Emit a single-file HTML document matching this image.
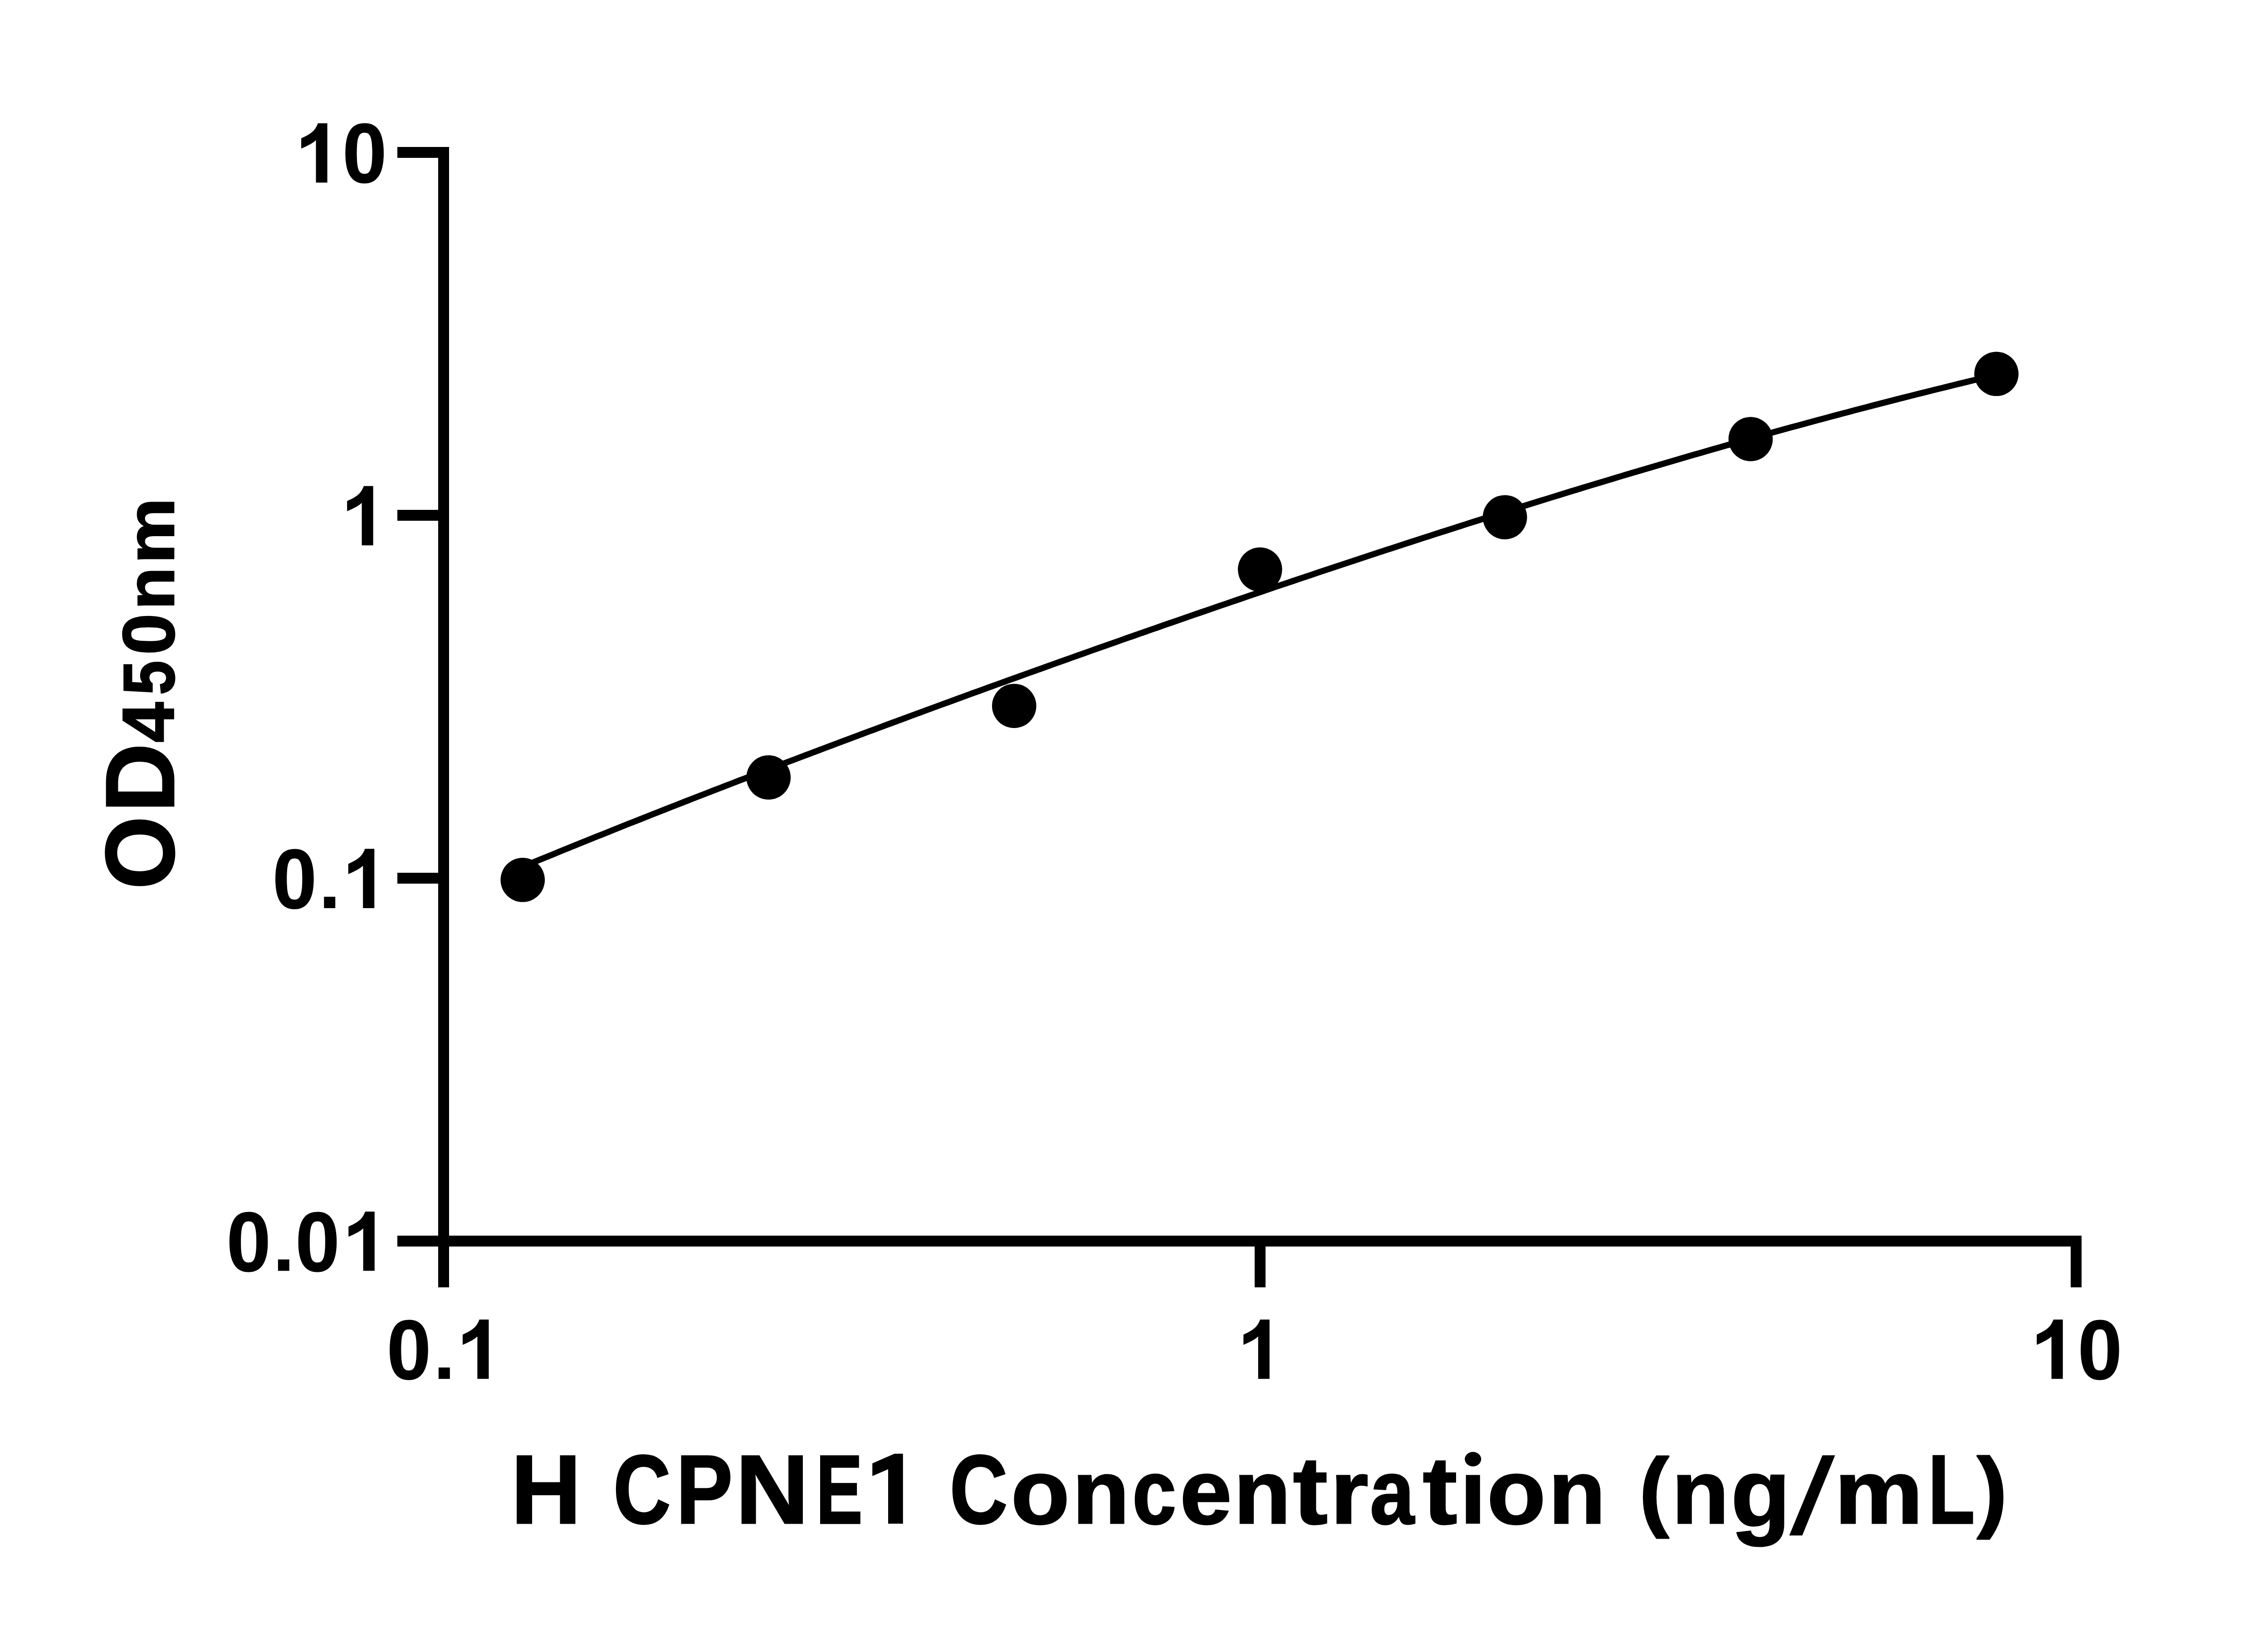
<!DOCTYPE html>
<html><head><meta charset="utf-8"><style>
html,body{margin:0;padding:0;background:#fff;width:5130px;height:3600px;overflow:hidden}
svg{display:block}
text{font-family:"Liberation Sans",sans-serif;font-weight:bold;font-size:200px;fill:#000}
</style></head><body>
<svg width="5130" height="3600" viewBox="0 0 5130 3600">
<rect width="5130" height="3600" fill="#fff"/>
<rect x="966" y="324" width="24" height="2514" fill="#000"/>
<rect x="876" y="2724" width="3713" height="24" fill="#000"/>
<rect x="876" y="324" width="114" height="24" fill="#000"/>
<rect x="876" y="1124" width="114" height="24" fill="#000"/>
<rect x="876" y="1924" width="114" height="24" fill="#000"/>
<rect x="2766" y="2724" width="24" height="114" fill="#000"/>
<rect x="4565" y="2724" width="24" height="114" fill="#000"/>
<polyline points="1152.3,1910.8 1165.9,1905.1 1179.5,1899.6 1193.1,1894.0 1206.7,1888.4 1220.3,1882.9 1233.9,1877.3 1247.5,1871.8 1261.0,1866.3 1274.6,1860.8 1288.2,1855.3 1301.8,1849.8 1315.4,1844.3 1329.0,1838.9 1342.6,1833.4 1356.2,1828.0 1369.8,1822.6 1383.4,1817.1 1397.0,1811.7 1410.6,1806.4 1424.2,1801.0 1437.8,1795.6 1451.4,1790.2 1465.0,1784.9 1478.5,1779.5 1492.1,1774.2 1505.7,1768.9 1519.3,1763.6 1532.9,1758.3 1546.5,1753.0 1560.1,1747.7 1573.7,1742.4 1587.3,1737.2 1600.9,1731.9 1614.5,1726.7 1628.1,1721.4 1641.7,1716.2 1655.3,1711.0 1668.9,1705.8 1682.5,1700.6 1696.0,1695.4 1709.6,1690.2 1723.2,1685.0 1736.8,1679.8 1750.4,1674.7 1764.0,1669.5 1777.6,1664.4 1791.2,1659.2 1804.8,1654.1 1818.4,1649.0 1832.0,1643.9 1845.6,1638.7 1859.2,1633.6 1872.8,1628.6 1886.4,1623.5 1900.0,1618.4 1913.5,1613.3 1927.1,1608.3 1940.7,1603.2 1954.3,1598.2 1967.9,1593.1 1981.5,1588.1 1995.1,1583.1 2008.7,1578.0 2022.3,1573.0 2035.9,1568.0 2049.5,1563.0 2063.1,1558.0 2076.7,1553.0 2090.3,1548.1 2103.9,1543.1 2117.5,1538.1 2131.0,1533.2 2144.6,1528.2 2158.2,1523.3 2171.8,1518.4 2185.4,1513.4 2199.0,1508.5 2212.6,1503.6 2226.2,1498.7 2239.8,1493.8 2253.4,1488.9 2267.0,1484.0 2280.6,1479.1 2294.2,1474.3 2307.8,1469.4 2321.4,1464.5 2335.0,1459.7 2348.5,1454.8 2362.1,1450.0 2375.7,1445.2 2389.3,1440.3 2402.9,1435.5 2416.5,1430.7 2430.1,1425.9 2443.7,1421.1 2457.3,1416.3 2470.9,1411.5 2484.5,1406.7 2498.1,1402.0 2511.7,1397.2 2525.3,1392.5 2538.9,1387.7 2552.5,1383.0 2566.0,1378.2 2579.6,1373.5 2593.2,1368.8 2606.8,1364.1 2620.4,1359.4 2634.0,1354.7 2647.6,1350.0 2661.2,1345.3 2674.8,1340.6 2688.4,1335.9 2702.0,1331.3 2715.6,1326.6 2729.2,1322.0 2742.8,1317.3 2756.4,1312.7 2770.0,1308.1 2783.5,1303.5 2797.1,1298.8 2810.7,1294.2 2824.3,1289.6 2837.9,1285.1 2851.5,1280.5 2865.1,1275.9 2878.7,1271.3 2892.3,1266.8 2905.9,1262.2 2919.5,1257.7 2933.1,1253.2 2946.7,1248.6 2960.3,1244.1 2973.9,1239.6 2987.5,1235.1 3001.0,1230.6 3014.6,1226.1 3028.2,1221.7 3041.8,1217.2 3055.4,1212.7 3069.0,1208.3 3082.6,1203.9 3096.2,1199.4 3109.8,1195.0 3123.4,1190.6 3137.0,1186.2 3150.6,1181.8 3164.2,1177.4 3177.8,1173.0 3191.4,1168.7 3205.0,1164.3 3218.5,1160.0 3232.1,1155.6 3245.7,1151.3 3259.3,1147.0 3272.9,1142.7 3286.5,1138.4 3300.1,1134.1 3313.7,1129.8 3327.3,1125.5 3340.9,1121.2 3354.5,1117.0 3368.1,1112.8 3381.7,1108.5 3395.3,1104.3 3408.9,1100.1 3422.5,1095.9 3436.0,1091.7 3449.6,1087.5 3463.2,1083.3 3476.8,1079.2 3490.4,1075.0 3504.0,1070.9 3517.6,1066.8 3531.2,1062.7 3544.8,1058.6 3558.4,1054.5 3572.0,1050.4 3585.6,1046.3 3599.2,1042.3 3612.8,1038.2 3626.4,1034.2 3640.0,1030.2 3653.5,1026.2 3667.1,1022.2 3680.7,1018.2 3694.3,1014.2 3707.9,1010.2 3721.5,1006.3 3735.1,1002.3 3748.7,998.4 3762.3,994.5 3775.9,990.6 3789.5,986.7 3803.1,982.8 3816.7,979.0 3830.3,975.1 3843.9,971.3 3857.5,967.5 3871.0,963.7 3884.6,959.9 3898.2,956.1 3911.8,952.3 3925.4,948.6 3939.0,944.8 3952.6,941.1 3966.2,937.4 3979.8,933.7 3993.4,930.0 4007.0,926.3 4020.6,922.7 4034.2,919.0 4047.8,915.4 4061.4,911.8 4075.0,908.2 4088.5,904.6 4102.1,901.0 4115.7,897.5 4129.3,893.9 4142.9,890.4 4156.5,886.9 4170.1,883.4 4183.7,879.9 4197.3,876.4 4210.9,873.0 4224.5,869.5 4238.1,866.1 4251.7,862.7 4265.3,859.3 4278.9,856.0 4292.5,852.6 4306.0,849.3 4319.6,845.9 4333.2,842.6 4346.8,839.3 4360.4,836.0 4374.0,832.8 4387.6,829.5 4401.2,826.3" fill="none" stroke="#000" stroke-width="13.5" stroke-linejoin="round"/>
<circle cx="1152.3" cy="1939.8" r="48.8" fill="#000"/>
<circle cx="1694.3" cy="1713.9" r="48.8" fill="#000"/>
<circle cx="2235.8" cy="1556.2" r="48.8" fill="#000"/>
<circle cx="2777.8" cy="1255.5" r="48.8" fill="#000"/>
<circle cx="3317.7" cy="1140.2" r="48.8" fill="#000"/>
<circle cx="3859.4" cy="968.0" r="48.8" fill="#000"/>
<circle cx="4401.2" cy="824.3" r="48.8" fill="#000"/>
<path transform="translate(664.10 402.50) scale(1.0000)" d="M32.4 0L57.5 0L57.5 -130.7L36.9 -130.7C32.53 -121.89 31.47 -111.10 0 -97.6L0 -75.1C17.93 -82.90 25.82 -87.34 32.4 -93.6Z"/>
<text transform="matrix(0.87681 0 0 0.93149 755.06 402.48)" stroke="#000" stroke-width="1.327" stroke-linejoin="miter" stroke-miterlimit="2">0</text>
<path transform="translate(765.20 1202.20) scale(1.0000)" d="M32.4 0L57.5 0L57.5 -130.7L36.9 -130.7C32.53 -121.89 31.47 -111.10 0 -97.6L0 -75.1C17.93 -82.90 25.82 -87.34 32.4 -93.6Z"/>
<text transform="matrix(0.87681 0 0 0.93149 600.76 2001.98)" stroke="#000" stroke-width="1.327" stroke-linejoin="miter" stroke-miterlimit="2">0</text>
<rect x="714.30" y="1976.90" width="24.9" height="25.1"/>
<path transform="translate(767.80 2002.00) scale(1.0000)" d="M32.4 0L57.5 0L57.5 -130.7L36.9 -130.7C32.53 -121.89 31.47 -111.10 0 -97.6L0 -75.1C17.93 -82.90 25.82 -87.34 32.4 -93.6Z"/>
<text transform="matrix(0.87681 0 0 0.93149 499.46 2801.58)" stroke="#000" stroke-width="1.327" stroke-linejoin="miter" stroke-miterlimit="2">0</text>
<rect x="612.90" y="2776.50" width="24.9" height="25.1"/>
<text transform="matrix(0.87681 0 0 0.93149 651.36 2801.58)" stroke="#000" stroke-width="1.327" stroke-linejoin="miter" stroke-miterlimit="2">0</text>
<path transform="translate(768.30 2801.60) scale(1.0000)" d="M32.4 0L57.5 0L57.5 -130.7L36.9 -130.7C32.53 -121.89 31.47 -111.10 0 -97.6L0 -75.1C17.93 -82.90 25.82 -87.34 32.4 -93.6Z"/>
<text transform="matrix(0.87681 0 0 0.93149 852.86 3039.78)" stroke="#000" stroke-width="1.327" stroke-linejoin="miter" stroke-miterlimit="2">0</text>
<rect x="966.90" y="3014.70" width="24.9" height="25.1"/>
<path transform="translate(1020.00 3039.80) scale(1.0000)" d="M32.4 0L57.5 0L57.5 -130.7L36.9 -130.7C32.53 -121.89 31.47 -111.10 0 -97.6L0 -75.1C17.93 -82.90 25.82 -87.34 32.4 -93.6Z"/>
<path transform="translate(2741.30 3039.80) scale(1.0000)" d="M32.4 0L57.5 0L57.5 -130.7L36.9 -130.7C32.53 -121.89 31.47 -111.10 0 -97.6L0 -75.1C17.93 -82.90 25.82 -87.34 32.4 -93.6Z"/>
<path transform="translate(4490.20 3039.80) scale(1.0000)" d="M32.4 0L57.5 0L57.5 -130.7L36.9 -130.7C32.53 -121.89 31.47 -111.10 0 -97.6L0 -75.1C17.93 -82.90 25.82 -87.34 32.4 -93.6Z"/>
<text transform="matrix(0.87681 0 0 0.93149 4580.86 3039.78)" stroke="#000" stroke-width="1.327" stroke-linejoin="miter" stroke-miterlimit="2">0</text>
<text transform="matrix(1.07503 0 0 1.07415 1126.32 3357.50)" stroke="#000" stroke-width="2.792" stroke-linejoin="miter" stroke-miterlimit="2">H</text>
<text transform="matrix(0.87640 0 0 1.07979 1352.11 3358.39)" stroke="#000" stroke-width="3.067" stroke-linejoin="miter" stroke-miterlimit="2">C</text>
<text transform="matrix(0.93565 0 0 1.07415 1490.58 3357.50)" stroke="#000" stroke-width="2.985" stroke-linejoin="miter" stroke-miterlimit="2">P</text>
<text transform="matrix(1.12351 0 0 1.07415 1621.27 3357.50)" stroke="#000" stroke-width="2.730" stroke-linejoin="miter" stroke-miterlimit="2">N</text>
<text transform="matrix(0.76911 0 0 1.07415 1798.91 3357.50)" stroke="#000" stroke-width="3.255" stroke-linejoin="miter" stroke-miterlimit="2">E</text>
<text transform="matrix(0.88329 0 0 1.07979 2093.85 3358.39)" stroke="#000" stroke-width="3.056" stroke-linejoin="miter" stroke-miterlimit="2">C</text>
<text transform="matrix(1.05873 0 0 1.01122 2228.73 3358.52)" stroke="#000" stroke-width="2.899" stroke-linejoin="miter" stroke-miterlimit="2">o</text>
<text transform="matrix(1.02814 0 0 0.99151 2364.15 3357.50)" stroke="#000" stroke-width="2.971" stroke-linejoin="miter" stroke-miterlimit="2">n</text>
<text transform="matrix(0.87127 0 0 1.01122 2496.29 3358.52)" stroke="#000" stroke-width="3.187" stroke-linejoin="miter" stroke-miterlimit="2">c</text>
<text transform="matrix(1.02814 0 0 1.01122 2601.37 3358.52)" stroke="#000" stroke-width="2.942" stroke-linejoin="miter" stroke-miterlimit="2">e</text>
<text transform="matrix(1.02814 0 0 0.99151 2719.95 3357.50)" stroke="#000" stroke-width="2.971" stroke-linejoin="miter" stroke-miterlimit="2">n</text>
<text transform="matrix(1.15038 0 0 1.05728 2850.49 3358.64)" stroke="#000" stroke-width="2.718" stroke-linejoin="miter" stroke-miterlimit="2">t</text>
<text transform="matrix(1.07593 0 0 0.99151 2933.12 3357.50)" stroke="#000" stroke-width="2.902" stroke-linejoin="miter" stroke-miterlimit="2">r</text>
<text transform="matrix(0.87771 0 0 1.01122 3020.16 3358.52)" stroke="#000" stroke-width="3.176" stroke-linejoin="miter" stroke-miterlimit="2">a</text>
<text transform="matrix(1.14228 0 0 1.05728 3136.51 3358.64)" stroke="#000" stroke-width="2.728" stroke-linejoin="miter" stroke-miterlimit="2">t</text>
<text transform="matrix(1.05873 0 0 1.01122 3278.33 3358.52)" stroke="#000" stroke-width="2.899" stroke-linejoin="miter" stroke-miterlimit="2">o</text>
<text transform="matrix(1.03021 0 0 0.99151 3413.82 3357.50)" stroke="#000" stroke-width="2.968" stroke-linejoin="miter" stroke-miterlimit="2">n</text>
<text transform="matrix(0.99565 0 0 0.97841 3613.58 3351.29)" stroke="#000" stroke-width="3.039" stroke-linejoin="miter" stroke-miterlimit="2">(</text>
<text transform="matrix(1.03332 0 0 0.99151 3685.58 3357.50)" stroke="#000" stroke-width="2.963" stroke-linejoin="miter" stroke-miterlimit="2">n</text>
<text transform="matrix(1.07172 0 0 1.05465 3815.91 3364.30)" stroke="#000" stroke-width="2.822" stroke-linejoin="miter" stroke-miterlimit="2">g</text>
<text transform="matrix(1.09757 0 0 0.99151 4044.33 3357.50)" stroke="#000" stroke-width="2.872" stroke-linejoin="miter" stroke-miterlimit="2">m</text>
<text transform="matrix(0.84375 0 0 1.07415 4250.61 3357.50)" stroke="#000" stroke-width="3.128" stroke-linejoin="miter" stroke-miterlimit="2">L</text>
<text transform="matrix(1.00983 0 0 0.98055 4357.90 3351.80)" stroke="#000" stroke-width="3.015" stroke-linejoin="miter" stroke-miterlimit="2">)</text>
<path d="M3944.6 3384.9L3973.2 3384.9L4045.6 3208.2L4017.8 3208.2Z"/>
<rect x="3231.7" y="3251.6" width="31.1" height="107.4"/><ellipse cx="3247.3" cy="3216.7" rx="18" ry="16"/>
<path d="M1958 3359L1990.7 3359L1990.7 3204.8L1972 3204.8L1923.2 3226L1923.2 3254L1958 3239Z"/>
<g transform="translate(384.5 0) rotate(-90)"><text transform="matrix(1.03911 0 0 1.07979 -1960.82 -1.31)" stroke="#000" stroke-width="2.643" stroke-linejoin="miter" stroke-miterlimit="2">O</text><text transform="matrix(1.05661 0 0 1.07705 -1790.94 -1.40)" stroke="#000" stroke-width="2.625" stroke-linejoin="miter" stroke-miterlimit="2">D</text><text transform="matrix(0.79904 0 0 0.80379 -1636.72 -1.20)" stroke="#000" stroke-width="3.494" stroke-linejoin="miter" stroke-miterlimit="2">4</text><text transform="matrix(0.68133 0 0 0.80186 -1531.99 -1.47)" stroke="#000" stroke-width="3.776" stroke-linejoin="miter" stroke-miterlimit="2">5</text><text transform="matrix(0.82214 0 0 0.80578 -1443.70 -1.07)" stroke="#000" stroke-width="3.440" stroke-linejoin="miter" stroke-miterlimit="2">0</text><text transform="matrix(0.76619 0 0 0.74363 -1344.10 -1.50)" stroke="#000" stroke-width="3.709" stroke-linejoin="miter" stroke-miterlimit="2">n</text><text transform="matrix(0.81710 0 0 0.74363 -1242.87 -1.50)" stroke="#000" stroke-width="3.588" stroke-linejoin="miter" stroke-miterlimit="2">m</text></g>
</svg></body></html>
